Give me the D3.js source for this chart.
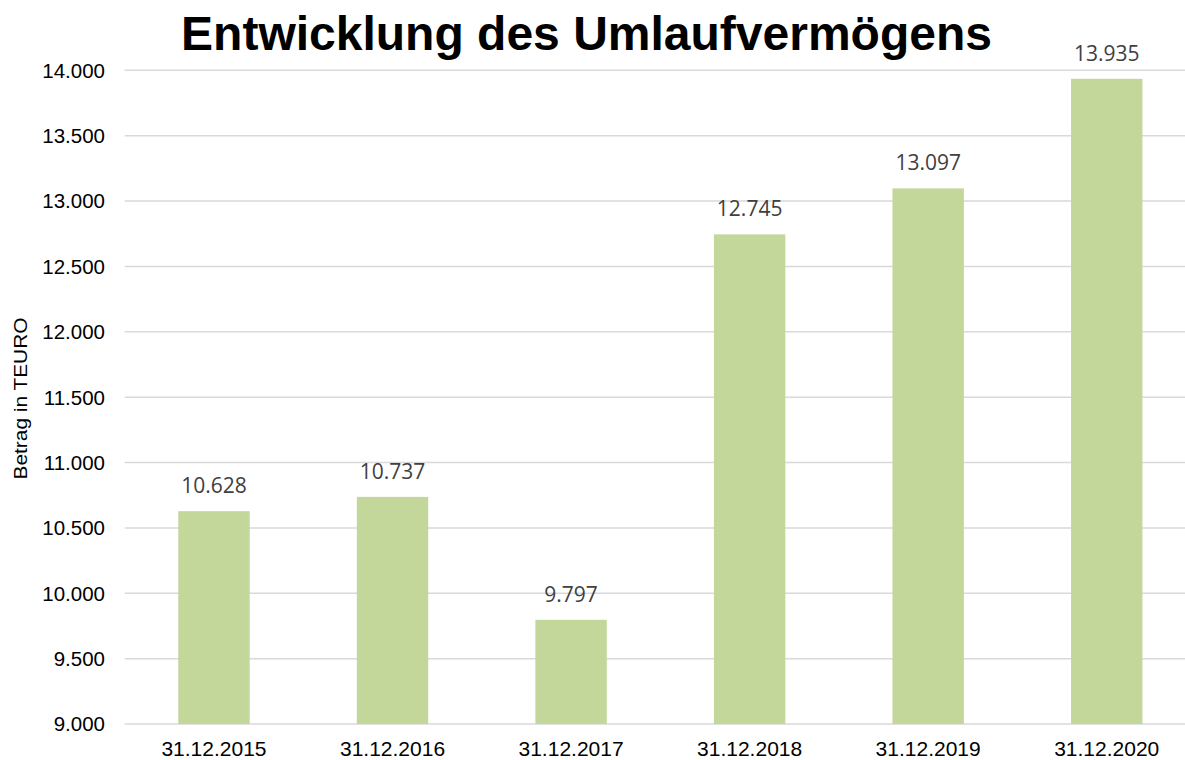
<!DOCTYPE html>
<html>
<head>
<meta charset="utf-8">
<script src="https://cdn.jsdelivr.net/npm/d3@7"></script>
<style>
  html, body { margin: 0; padding: 0; background: #fff; }
  svg { display: block; }
</style>
</head>
<body>
<svg id="chart" width="1185" height="760"></svg>
<script>
// chart data
const categories = ['31.12.2015', '31.12.2016', '31.12.2017', '31.12.2018', '31.12.2019', '31.12.2020'];
const values = [10628, 10737, 9797, 12745, 13097, 13935];
const yTicks = [9000, 9500, 10000, 10500, 11000, 11500, 12000, 12500, 13000, 13500, 14000];

const title = 'Entwicklung des Umlaufvermögens';
const yTitle = 'Betrag in TEURO';

const width = 1185;
const height = 760;
const plot = { left: 124.7, right: 1196, top: 70.3, bottom: 724 }; // plot area runs past the right edge

const de = d3.formatLocale({ decimal: ',', thousands: '.', grouping: [3], currency: ['', ' €'] });
const fmt = de.format(',.0f');

const svg = d3.select('#chart');

const x = d3.scaleBand()
  .domain(categories)
  .range([plot.left, plot.right])
  .paddingInner(0.6)
  .paddingOuter(0.3);

const y = d3.scaleLinear()
  .domain([9000, 14000])
  .range([plot.bottom, plot.top]);

// gridlines
svg.append('g')
  .selectAll('line')
  .data(yTicks)
  .join('line')
  .attr('x1', plot.left)
  .attr('x2', plot.right)
  .attr('y1', d => y(d))
  .attr('y2', d => y(d))
  .attr('stroke', '#d9d9d9')
  .attr('stroke-width', 1.5);

// y axis labels
svg.append('g')
  .selectAll('text')
  .data(yTicks)
  .join('text')
  .attr('x', 105)
  .attr('y', d => y(d))
  .attr('dy', '0.36em')
  .attr('text-anchor', 'end')
  .attr('font-family', 'Liberation Sans, Arial, sans-serif')
  .attr('font-size', 20.5)
  .attr('fill', '#000')
  .text(d => fmt(d));

// bars
svg.append('g')
  .selectAll('rect')
  .data(values)
  .join('rect')
  .attr('x', (d, i) => x(categories[i]))
  .attr('y', d => y(d))
  .attr('width', x.bandwidth())
  .attr('height', d => y(9000) - y(d))
  .attr('fill', '#c4d79b');

// value labels
svg.append('g')
  .selectAll('text')
  .data(values)
  .join('text')
  .attr('x', (d, i) => x(categories[i]) + x.bandwidth() / 2)
  .attr('y', d => y(d) - 18)
  .attr('text-anchor', 'middle')
  .attr('font-family', 'Open Sans, sans-serif')
  .attr('font-size', 21)
  .attr('fill', '#404040')
  .text(d => fmt(d));

// x axis labels
svg.append('g')
  .selectAll('text')
  .data(categories)
  .join('text')
  .attr('x', d => x(d) + x.bandwidth() / 2)
  .attr('y', 756)
  .attr('text-anchor', 'middle')
  .attr('font-family', 'Liberation Sans, Arial, sans-serif')
  .attr('font-size', 21)
  .attr('fill', '#000')
  .text(d => d);

// y axis title (stretched along its length like the original)
svg.append('text')
  .attr('transform', 'translate(26.5,398.5) rotate(-90)')
  .attr('text-anchor', 'middle')
  .attr('font-family', 'Liberation Sans, Arial, sans-serif')
  .attr('font-size', 18)
  .attr('textLength', 162)
  .attr('lengthAdjust', 'spacingAndGlyphs')
  .attr('fill', '#000')
  .text(yTitle);

// title
svg.append('text')
  .attr('x', 586.5)
  .attr('y', 50)
  .attr('text-anchor', 'middle')
  .attr('font-family', 'Liberation Sans, Arial, sans-serif')
  .attr('font-weight', 'bold')
  .attr('font-size', 48)
  .attr('fill', '#000')
  .text(title);
</script>
</body>
</html>
